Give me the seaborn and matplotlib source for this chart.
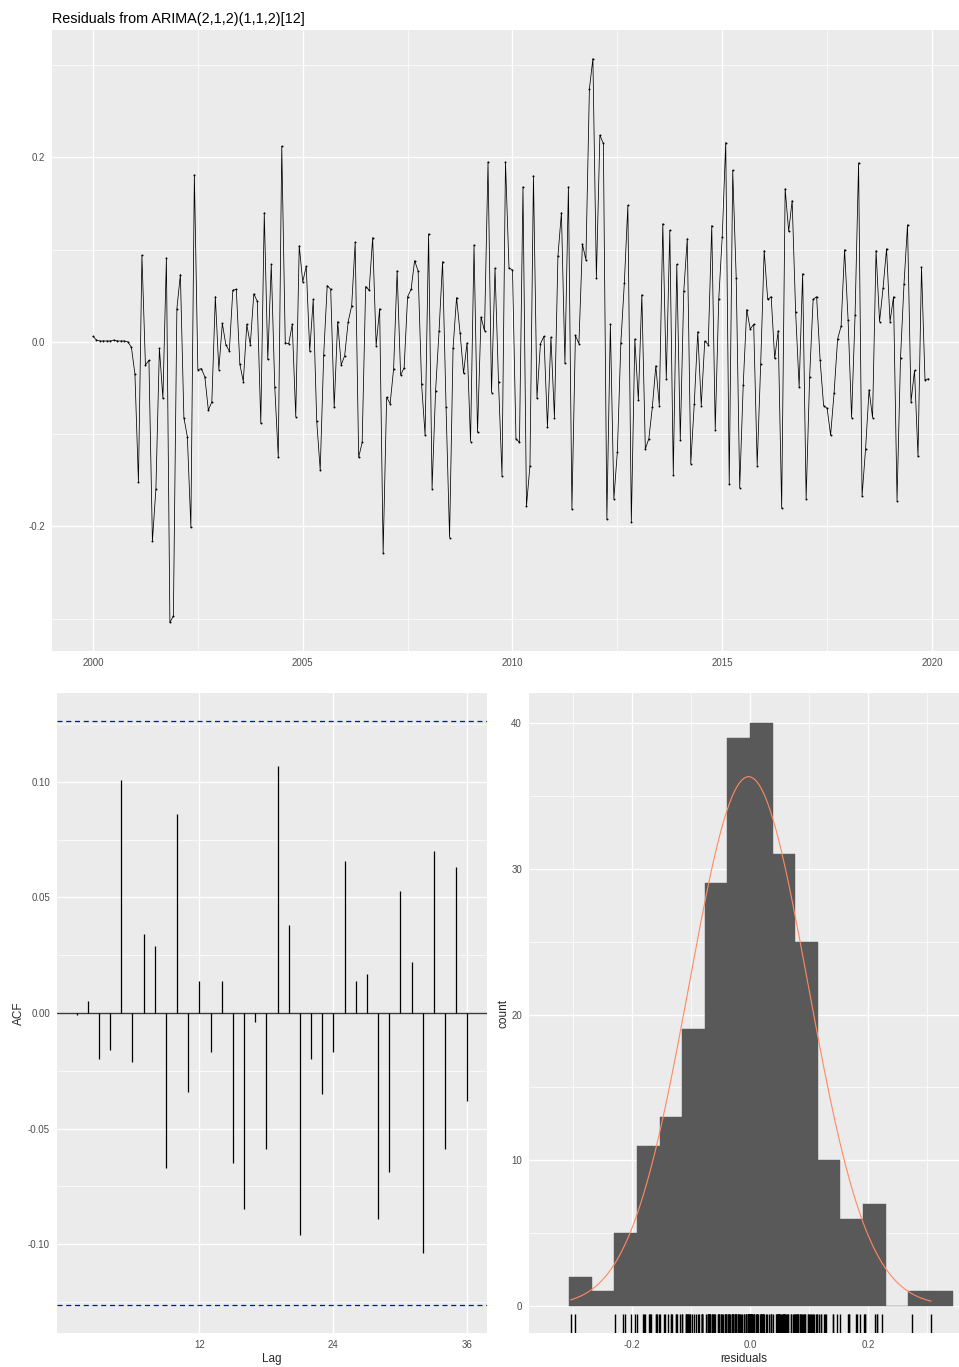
import numpy as np
import pandas as pd
import matplotlib
matplotlib.use("Agg")
import matplotlib.pyplot as plt
from matplotlib.ticker import FixedLocator
import seaborn as sns

# monthly residuals, one row per year (2000 .. 2019)
resid_rows = [
    [0.006, 0.002, 0.001, 0.001, 0.001, 0.001, 0.002, 0.001, 0.001, 0.001, 0.000, -0.006],
    [-0.035, -0.152, 0.094, -0.025, -0.020, -0.216, -0.159, -0.007, -0.061, 0.091, -0.304, -0.297],
    [0.036, 0.073, -0.082, -0.103, -0.201, 0.181, -0.030, -0.029, -0.038, -0.074, -0.065, 0.049],
    [-0.030, 0.020, -0.003, -0.010, 0.056, 0.057, -0.024, -0.043, 0.019, -0.003, 0.052, 0.044],
    [-0.088, 0.140, -0.019, 0.084, -0.049, -0.125, 0.212, -0.001, -0.002, 0.019, -0.081, 0.104],
    [0.065, 0.082, -0.010, 0.046, -0.086, -0.139, -0.014, 0.061, 0.057, -0.071, 0.022, -0.025],
    [-0.015, 0.022, 0.039, 0.108, -0.125, -0.109, 0.060, 0.056, 0.113, -0.004, 0.036, -0.229],
    [-0.060, -0.067, -0.029, 0.077, -0.036, -0.028, 0.049, 0.057, 0.088, 0.077, -0.046, -0.101],
    [0.117, -0.159, -0.053, 0.012, 0.087, -0.071, -0.212, -0.007, 0.048, 0.010, -0.034, -0.001],
    [-0.108, 0.105, -0.098, 0.027, 0.012, 0.195, -0.055, 0.080, -0.043, -0.145, 0.195, 0.080],
    [0.078, -0.105, -0.109, 0.168, -0.178, -0.134, 0.180, -0.061, -0.002, 0.006, -0.092, 0.005],
    [-0.082, 0.093, 0.140, -0.023, 0.168, -0.181, 0.007, -0.002, 0.106, 0.089, 0.274, 0.307],
    [0.069, 0.224, 0.215, -0.192, 0.019, -0.170, -0.119, -0.001, 0.064, 0.148, -0.195, 0.003],
    [-0.063, 0.051, -0.116, -0.105, -0.071, -0.026, -0.069, 0.128, -0.040, 0.121, -0.144, 0.084],
    [-0.106, 0.055, 0.112, -0.132, -0.067, 0.011, -0.069, 0.001, -0.003, 0.126, -0.095, 0.046],
    [0.114, 0.216, -0.154, 0.186, 0.069, -0.158, -0.047, 0.035, 0.014, 0.019, -0.134, -0.024],
    [0.099, 0.046, 0.049, -0.018, 0.012, -0.180, 0.166, 0.120, 0.153, 0.032, -0.049, 0.074],
    [-0.170, -0.038, 0.046, 0.049, -0.020, -0.069, -0.072, -0.101, -0.055, 0.003, 0.017, 0.100],
    [0.024, -0.082, 0.029, 0.194, -0.167, -0.116, -0.052, -0.082, 0.099, 0.022, 0.058, 0.101],
    [0.022, 0.049, -0.172, -0.017, 0.063, 0.127, -0.065, -0.031, -0.124, 0.081, -0.041, -0.040],
]
start_year = 2000
residuals = np.array([v for row in resid_rows for v in row])

acf_lags = list(range(1, 37))
acf_values = [-0.001, 0.005, -0.020, -0.016, 0.101, -0.021, 0.034, 0.029, -0.067, 0.086,
              -0.034, 0.014, -0.017, 0.014, -0.065, -0.085, -0.004, -0.059, 0.107, 0.038,
              -0.096, -0.020, -0.035, -0.017, 0.066, 0.014, 0.017, -0.089, -0.069, 0.053,
              0.022, -0.104, 0.070, -0.059, 0.063, -0.038]

binwidth = 0.0383
hist_first_edge = -8 * binwidth
hist_counts = [2, 1, 5, 11, 13, 19, 29, 39, 40, 31, 25, 10, 6, 7, 0, 1, 1]

# ---- style (ggplot grey look) ----
sns.set_theme(style="darkgrid")
plt.rcParams.update({
    "axes.facecolor": "#EBEBEB",
    "grid.color": "white",
    "axes.edgecolor": "#EBEBEB",
    "xtick.color": "#333333",
    "ytick.color": "#333333",
    "xtick.labelcolor": "#4D4D4D",
    "ytick.labelcolor": "#4D4D4D",
    "xtick.labelsize": 7,
    "ytick.labelsize": 7,
    "xtick.major.size": 3,
    "ytick.major.size": 3,
    "xtick.major.width": 0.8,
    "ytick.major.width": 0.8,
    "xtick.major.pad": 2,
    "ytick.major.pad": 2,
    "xtick.minor.size": 0,
    "ytick.minor.size": 0,
})
plt.rcParams["font.family"] = ["Liberation Sans", "DejaVu Sans"]

W, H = 959, 1367
fig = plt.figure(figsize=(W / 100, H / 100), dpi=100)


def place(left, top, right, bottom):
    return [left / W, 1 - bottom / H, (right - left) / W, (bottom - top) / H]


def style_axes(ax, xmaj, xmin, ymaj, ymin):
    ax.xaxis.set_major_locator(FixedLocator(xmaj))
    ax.xaxis.set_minor_locator(FixedLocator(xmin))
    ax.yaxis.set_major_locator(FixedLocator(ymaj))
    ax.yaxis.set_minor_locator(FixedLocator(ymin))
    ax.grid(which="major", color="white", lw=1.0)
    ax.grid(which="minor", color="white", lw=0.5)
    for s in ax.spines.values():
        s.set_visible(False)
    ax.set_axisbelow(True)


# ---- top: residual series ----
ax1 = fig.add_axes(place(52, 30, 959, 651))
df = pd.DataFrame({"time": start_year + np.arange(len(residuals)) / 12, "residual": residuals})
sns.lineplot(data=df, x="time", y="residual", color="black", lw=0.55, ax=ax1)
sns.scatterplot(data=df, x="time", y="residual", color="black", s=2, linewidth=0, ax=ax1)
ax1.set_xlim(1999.023, 2020.644)
ax1.set_ylim(-0.335, 0.338)
style_axes(ax1, [2000, 2005, 2010, 2015, 2020], [2002.5, 2007.5, 2012.5, 2017.5],
           [-0.2, 0.0, 0.2], [-0.3, -0.1, 0.1, 0.3])
ax1.set_yticklabels(["-0.2", "0.0", "0.2"])
ax1.set_xlabel("")
ax1.set_ylabel("")
ax1.set_title("Residuals from ARIMA(2,1,2)(1,1,2)[12]", loc="left", fontsize=10.4, pad=5, color="black")

# ---- bottom left: ACF ----
ax2 = fig.add_axes(place(57, 693, 487, 1333))
conf = 1.96 / np.sqrt(len(residuals))
ax2.axhline(0, color="#3a3a3a", lw=1.0)
ax2.vlines(acf_lags, 0, acf_values, color="black", lw=0.9)
ax2.axhline(conf, color="#0000FF", lw=0.9, ls=(0, (4, 3)))
ax2.axhline(-conf, color="#0000FF", lw=0.9, ls=(0, (4, 3)))
ax2.set_xlim(-0.75, 37.75)
ax2.set_ylim(-0.1385, 0.1385)
style_axes(ax2, [12, 24, 36], [], [-0.10, -0.05, 0.0, 0.05, 0.10],
           [-0.125, -0.075, -0.025, 0.025, 0.075, 0.125])
ax2.set_yticklabels(["-0.10", "-0.05", "0.00", "0.05", "0.10"])
ax2.set_xlabel("Lag", fontsize=8.5, labelpad=2)
ax2.set_ylabel("ACF", fontsize=8.5, labelpad=2)

# ---- bottom right: histogram ----
ax3 = fig.add_axes(place(529, 693, 959, 1333))
edges = hist_first_edge + binwidth * np.arange(len(hist_counts) + 1)
hist_df = pd.DataFrame({"center": (edges[:-1] + edges[1:]) / 2, "count": hist_counts})
sns.histplot(data=hist_df, x="center", weights="count", bins=list(edges), color="#595959",
             alpha=1, edgecolor="#595959", linewidth=0.3, ax=ax3)
xs = np.linspace(residuals.min(), residuals.max(), 400)
mu, sd = residuals.mean(), residuals.std(ddof=1)
dens = np.exp(-0.5 * ((xs - mu) / sd) ** 2) / (sd * np.sqrt(2 * np.pi)) * len(residuals) * binwidth
sns.lineplot(x=xs, y=dens, color="#ff8a62", lw=0.8, ax=ax3)
sns.rugplot(x=residuals, height=0.03, color="black", lw=0.7, ax=ax3)
ax3.set_xlim(-0.3746, 0.3542)
ax3.set_ylim(-1.85, 42.06)
style_axes(ax3, [-0.2, 0.0, 0.2], [-0.3, -0.1, 0.1, 0.3], [0, 10, 20, 30, 40], [5, 15, 25, 35])
ax3.set_xticklabels(["-0.2", "0.0", "0.2"])
ax3.set_xlabel("residuals", fontsize=8.5, labelpad=2)
ax3.set_ylabel("count", fontsize=8.5, labelpad=1)

fig.savefig("out.png", dpi=100)
